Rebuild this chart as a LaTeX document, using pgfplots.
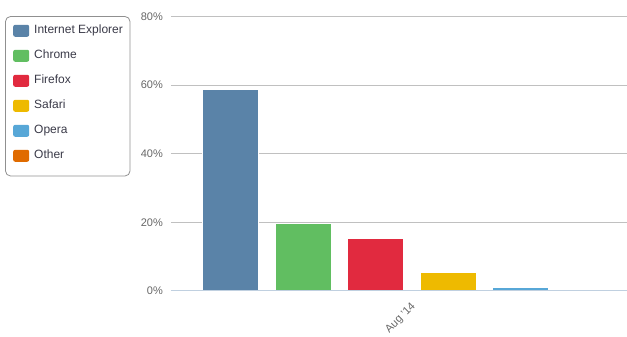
\documentclass[border=0pt]{standalone}
\usepackage{pgfplots}
\pgfplotsset{compat=1.18}
\usepackage{fontspec}
\setmainfont{Liberation Sans}
\definecolor{cIE}{HTML}{5A83A8}
\definecolor{cCH}{HTML}{61BE61}
\definecolor{cFF}{HTML}{E12A3F}
\definecolor{cSA}{HTML}{EEBA00}
\definecolor{cOP}{HTML}{57A7D7}
\definecolor{cOT}{HTML}{E06B00}
\definecolor{gridc}{HTML}{C0C0C0}
\definecolor{axisc}{HTML}{C0D0E0}
\definecolor{tickc}{HTML}{666666}
\definecolor{legc}{HTML}{3A3A48}
\definecolor{legborder}{HTML}{909090}
\begin{document}
\begin{tikzpicture}
\useasboundingbox (0,0) rectangle (627pt,337pt);
\begin{axis}[
  at={(171pt,46pt)}, anchor=south west,
  scale only axis, width=456pt, height=274.4pt,
  xmin=171, xmax=627, ymin=0, ymax=80,
  ybar, bar width=56, bar shift=0pt,
  axis line style={draw=none},
  major tick length=0pt,
  ymajorgrids, grid style={color=gridc, line width=1pt},
  ytick={0,20,40,60,80},
  yticklabel={\pgfmathprintnumber{\tick}\%},
  /pgf/number format/assume math mode=true,
  yticklabel style={font=\fontsize{11}{13}\selectfont, color=tickc, anchor=east, inner sep=0pt, xshift=-8pt},
  xtick={411}, xticklabels={Aug '14},
  xticklabel style={font=\fontsize{11}{13}\selectfont, color=tickc, xshift=3pt, yshift=-14pt, rotate=45, anchor=east, inner sep=0pt},
  legend cell align=left,
  legend image code/.code={\fill[#1, draw=none, rounded corners=2pt] (0pt,-6pt) rectangle (16pt,6pt);},
  legend style={at={(-0.34649,0.97100)}, anchor=north west, draw=none, fill=none,
    inner sep=0pt, row sep=13pt, column sep=5pt,
    nodes={inner sep=0pt, text height=9pt, text depth=3pt, text=legc, font=\fontsize{12}{14}\selectfont}},
]
\addplot[fill=cIE, draw=white, line width=1pt] coordinates {(231,58.8)};
\addplot[fill=cCH, draw=white, line width=1pt] coordinates {(303,19.6)};
\addplot[fill=cFF, draw=white, line width=1pt] coordinates {(375,15.3)};
\addplot[fill=cSA, draw=white, line width=1pt] coordinates {(448,5.4)};
\addplot[fill=cOP, draw=white, line width=1pt] coordinates {(520,0.9)};
\addplot[fill=cOT, draw=none] coordinates {(592,0)};
\legend{Internet Explorer,Chrome,Firefox,Safari,Opera,Other}
\draw[axisc, line width=1pt] (axis cs:171,0) -- (axis cs:627,0);
\end{axis}
\draw[color=legborder, line width=0.8pt, rounded corners=5pt] (5.5pt,320.5pt) rectangle (130pt,161pt);
\end{tikzpicture}
\end{document}
